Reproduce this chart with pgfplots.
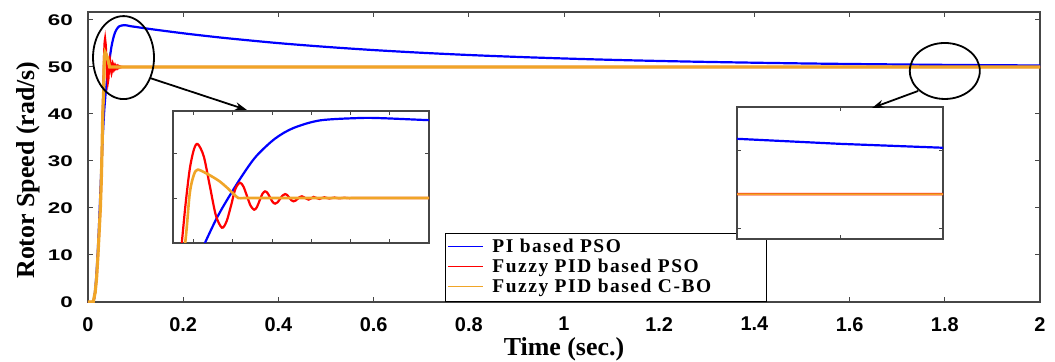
\documentclass[border=0pt]{standalone}
\usepackage{fontspec}
\setmainfont{Liberation Serif}
\newfontfamily\ticksf{Liberation Sans}
\newfontfamily\legfont{Liberation Serif}[LetterSpace=8]
\usepackage{pgfplots}
\usepackage{pgfplotstable}
\pgfplotsset{compat=1.18}
\usetikzlibrary{arrows.meta}

\definecolor{blueline}{RGB}{0,0,255}
\definecolor{redline}{RGB}{255,0,0}
\definecolor{orangeline}{RGB}{240,165,40}
\definecolor{axgray}{RGB}{70,70,70}
\newcommand{\legline}[1]{\textcolor{#1}{\rule[4.8bp]{35bp}{1.8bp}}\hspace{9bp}}

\pgfplotstableread{
t v
0 0
0.011 0
0.015 2.5
0.019 8
0.023 16
0.027 26
0.031 35
0.034 40.5
0.0360 43.2
0.0377 45.07
0.0405 47.8
0.0432 50.0
0.0468 52.67
0.0500 54.7
0.0544 56.6
0.0588 57.78
0.0652 58.63
0.0747 58.89
0.0800 58.87
0.0913 58.65
0.1 58.53
0.12 58.23
0.15 57.82
0.2 57.17
0.25 56.58
0.3 56.04
0.4 55.08
0.5 54.28
0.6 53.60
0.7 53.03
0.8 52.55
0.9 52.15
1.0 51.81
1.1 51.52
1.2 51.28
1.3 51.08
1.4 50.91
1.5 50.76
1.6 50.64
1.7 50.54
1.8 50.45
1.9 50.38
2.0 50.32
}\bluedata

\pgfplotstableread{
t v
0 0
0.011 0
0.015 2
0.018 5
0.021 10
0.024 16
0.026 20
0.028 26
0.029 30
0.031 40
0.0321 45
0.033 49.3
0.034 53.2
0.035 55.4
0.0359 56.0
0.03735 54.64
0.0388 51.35
0.04025 48.06
0.0417 46.7
0.0428 47.4
0.0439 49.2
0.0449 51.0
0.0460 51.7
0.04685 51.26
0.0477 50.2
0.04855 49.14
0.0494 48.7
0.05005 48.98
0.0507 49.72
0.05135 50.44
0.0520 50.74
0.0526 50.55
0.0532 50.06
0.0538 49.57
0.0544 49.37
0.0550 49.52
0.0556 49.9
0.0562 50.28
0.0568 50.44
0.0573 50.33
0.0578 50.04
0.0583 49.75
0.0588 49.63
0.0593 49.71
0.0598 49.91
0.0603 50.11
0.0608 50.19
0.0616 50.0
0.0624 49.82
0.0630 49.95
0.0636 50.12
0.0643 50.0
0.0650 49.9
0.0656 50.0
0.0662 50.08
0.0668 50.0
0.0674 49.94
0.0680 50.0
0.0686 50.05
0.0692 50.0
0.0698 49.96
0.0704 50.0
0.0710 50.03
0.0716 50.0
0.0722 49.98
0.0728 50.0
0.0750 50.0
0.08 50.0
0.09 50.0
0.1 50.0
0.13 50.0
0.18 50.0
0.25 50.0
0.35 50.0
0.5 50.0
0.7 50.0
1.0 50.0
1.3 50.0
1.6 50.0
1.8 50.0
2.0 50.0
}\reddata

\pgfplotstableread{
t v
0 0
0.011 0
0.015 2
0.018 5
0.021 10
0.024 16
0.026 20
0.028 26
0.029 30
0.031 40
0.0329 45
0.034 50.5
0.035 52.6
0.0359 53.15
0.0375 52.85
0.0389 52.5
0.041 51.9
0.0428 51.2
0.0445 50.45
0.0456 50.0
0.0470 50.0
0.0500 50.0
0.0550 50.0
0.0620 50.0
0.0700 50.0
0.0800 50.0
0.09 50.0
0.1 50.0
0.13 50.0
0.18 50.0
0.25 50.0
0.35 50.0
0.5 50.0
0.7 50.0
1.0 50.0
1.3 50.0
1.6 50.0
1.8 50.0
2.0 50.0
}\orangedata

\begin{document}
\begin{tikzpicture}
\path[use as bounding box] (-88bp,-60bp) rectangle (967bp,302bp);
\begin{axis}[
  width=952bp, height=290bp, scale only axis,
  xmin=0, xmax=2, ymin=0, ymax=61.7,
  xtick={0,0.2,...,2}, ytick={0,10,...,60},
  tick align=inside, major tick length=5bp,
  axis line style={axgray, line width=1.2bp},
  tick style={axgray, line width=1bp},
  /pgf/number format/assume math mode=true,
  xticklabel style={font=\ticksf\bfseries\fontsize{20}{20}\selectfont, inner sep=0pt, yshift=-15bp},
  yticklabel style={font=\ticksf\bfseries\fontsize{15.5}{15.5}\selectfont, inner sep=0pt, xshift=-15bp},
  yticklabel={\scalebox{1.45}[1]{\pgfmathprintnumber{\tick}}},
  xlabel={Time (sec.)}, ylabel={Rotor Speed (rad/s)},
  label style={font=\bfseries\fontsize{26}{26}\selectfont},
  xlabel style={at={(axis description cs:0.5,0)}, anchor=north, inner sep=0pt, yshift=-35bp},
  ylabel style={at={(axis description cs:-0.063,0.455)}, anchor=center, inner sep=0pt, rotate=0},
  legend style={at={(axis description cs:0.375,0)}, anchor=south west, draw=black, line width=0.8bp, fill=white,
    font=\legfont\bfseries\fontsize{19.5}{19.5}\selectfont, inner xsep=3bp, inner ysep=5bp, row sep=2bp, column sep=0bp,
    nodes={inner sep=0pt, text height=13.5bp, text depth=4.5bp, text width=315bp, align=left}},
  legend cell align=left,
  legend image code/.code={},
]
\addplot[blueline, line width=2.2bp, smooth] table[x=t,y=v] {\bluedata};
\addlegendentry{\legline{blueline}PI based PSO}
\addplot[redline, line width=2.2bp] table[x=t,y=v] {\reddata};
\addlegendentry{\legline{redline}Fuzzy PID based PSO}
\addplot[orangeline, line width=3.2bp] table[x=t,y=v] {\orangedata};
\addlegendentry{\legline{orangeline}Fuzzy PID based C-BO}
\coordinate (E1) at (axis cs:0.0746,52.0);
\coordinate (A1s) at (axis cs:0.130,47.66);
\coordinate (A1e) at (axis cs:0.334,40.85);
\coordinate (E2) at (axis cs:1.800,49.15);
\coordinate (A2s) at (axis cs:1.744,44.9);
\coordinate (A2e) at (axis cs:1.647,41.28);
\end{axis}

\begin{axis}[
  at={(85bp,59bp)}, anchor=south west,
  width=256bp, height=132bp, scale only axis,
  xmin=0.0300, xmax=0.0912, ymin=45, ymax=59.67,
  xtick={0.0348,0.0443,0.0537,0.0630,0.0723,0.0817}, ytick={50,55},
  xticklabels={}, yticklabels={}, scaled ticks=false,
  tick align=inside, major tick length=4bp,
  axis line style={axgray, line width=1.2bp},
  tick style={axgray, line width=0.8bp},
  axis background/.style={fill=white},
]
\addplot[blueline, line width=2.2bp, smooth] table[x=t,y=v] {\bluedata};
\addplot[redline, line width=2.2bp, smooth] table[x=t,y=v] {\reddata};
\addplot[orangeline, line width=2.6bp, smooth] table[x=t,y=v] {\orangedata};
\end{axis}

\begin{axis}[
  at={(649bp,63bp)}, anchor=south west,
  width=206bp, height=132bp, scale only axis,
  xmin=1.75, xmax=1.85, ymin=49.6, ymax=50.78,
  xtick={1.8}, ytick={49.69,50.39},
  xticklabels={}, yticklabels={}, scaled ticks=false,
  tick align=inside, major tick length=4bp,
  axis line style={axgray, line width=1.2bp},
  tick style={axgray, line width=0.8bp},
  axis background/.style={fill=white},
]
\addplot[blueline, line width=2.2bp] table[x=t,y=v] {\bluedata};
\addplot[redline, line width=2.6bp] table[x=t,y=v] {\reddata};
\addplot[orangeline, line width=1.8bp] table[x=t,y=v] {\orangedata};
\end{axis}

\draw[black, line width=1.8bp] (E1) ellipse [x radius=30.5bp, y radius=41.5bp];
\draw[black, line width=1.8bp] (E2) ellipse [x radius=35bp, y radius=28bp];
\draw[black, line width=1.8bp, -{Stealth[length=12bp,width=8bp]}] (A1s) -- (A1e);
\draw[black, line width=1.8bp, -{Stealth[length=12bp,width=8bp]}] (A2s) -- (A2e);
\end{tikzpicture}
\end{document}
